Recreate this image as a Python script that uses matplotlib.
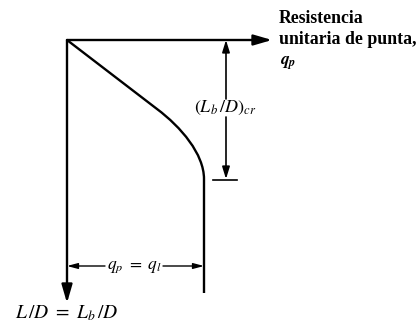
import matplotlib
matplotlib.use("Agg")
import matplotlib.pyplot as plt
from matplotlib.path import Path
from matplotlib.patches import PathPatch

plt.rcParams['mathtext.fontset'] = 'stix'

# Curve: unit point resistance q (x) vs depth ratio L/D (y, downward)
# straight part, then a smooth bend (Bezier control points), then vertical
curve_q = [0, 90, 114, 137, 137, 137]
curve_LD = [0, 69, 87, 114, 139, 253]

axis_q_end = 205          # end of q_p axis arrow
axis_LD_end = 263         # end of L/D axis arrow
LD_cr = 139               # critical depth ratio (L_b/D)_cr
q_limit = 137             # limiting point resistance q_l
dim_x = 159               # position of the (L_b/D)_cr dimension line
dim_y = 226               # position of the q_p = q_l dimension line

label_axis_q = "Resistencia\nunitaria de punta,"
label_axis_q_sym = r"$\mathbfit{q}_{\mathbfit{p}}$"
label_cr = r"$(L_b\,/D)_{cr}$"
label_ql = r"$q_p\ =\ q_l$"
label_LD = r"$L\,/D\ =\ L_b\,/D$"

fig = plt.figure(figsize=(4.17, 3.24), dpi=100)
ax = fig.add_axes([0, 0, 1, 1])
ax.set_xlim(-67, 350)
ax.set_ylim(284, -40)
ax.axis('off')

lw = 1.7
k = 'black'

# axes arrows
big = dict(arrowstyle='-|>,head_length=1.1,head_width=0.32', color=k, lw=lw,
           mutation_scale=10, shrinkA=0, shrinkB=0)
ax.annotate('', xy=(axis_q_end, 0), xytext=(0, 0), arrowprops=big)
ax.annotate('', xy=(0, axis_LD_end), xytext=(0, 0), arrowprops=big)

# curve
verts = list(zip(curve_q, curve_LD))
codes = [Path.MOVETO, Path.LINETO, Path.CURVE4, Path.CURVE4, Path.CURVE4, Path.LINETO]
ax.add_patch(PathPatch(Path(verts, codes), fill=False, edgecolor=k, lw=lw))

# (L_b/D)_cr dimension
small = dict(arrowstyle='-|>,head_length=0.9,head_width=0.28', color=k, lw=1.2,
             mutation_scale=8, shrinkA=0, shrinkB=0)
ax.annotate('', xy=(dim_x, 0), xytext=(dim_x, 59), arrowprops=small)
ax.annotate('', xy=(dim_x, LD_cr), xytext=(dim_x, 77), arrowprops=small)
ax.plot([dim_x - 13, dim_x + 11], [LD_cr + 0.5, LD_cr + 0.5], color=k, lw=1.2)
ax.text(dim_x - 1, 68, label_cr, ha='center', va='center', fontsize=13)

# q_p = q_l dimension
tiny = dict(arrowstyle='-|>,head_length=0.9,head_width=0.24', color=k, lw=1.0,
            mutation_scale=7, shrinkA=0, shrinkB=0)
ax.annotate('', xy=(0, dim_y), xytext=(38, dim_y), arrowprops=tiny)
ax.annotate('', xy=(q_limit, dim_y), xytext=(96, dim_y), arrowprops=tiny)
ax.text(67, dim_y, label_ql, ha='center', va='center', fontsize=12.5)

# axis labels
ax.text(212, -30, label_axis_q, ha='left', va='top', fontsize=12.8,
        family='Liberation Serif', fontweight='bold', linespacing=1.3)
ax.text(213, 23, label_axis_q_sym, ha='left', va='center', fontsize=12.5)
ax.text(0, 273, label_LD, ha='center', va='center', fontsize=14)

fig.savefig('out.png', dpi=100)
